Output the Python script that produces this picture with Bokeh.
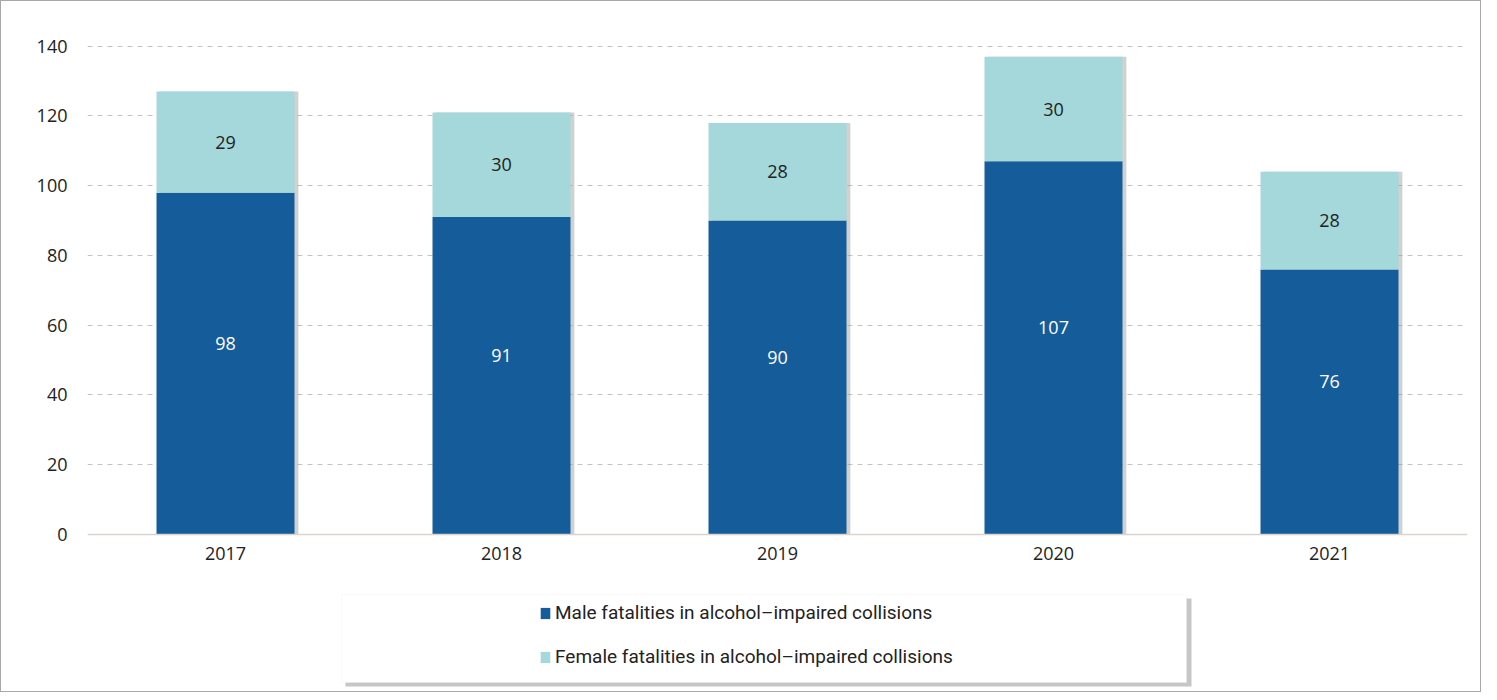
from bokeh.plotting import figure
from bokeh.models import ColumnDataSource, Legend, LegendItem, LabelSet, BoxAnnotation, FixedTicker, Range1d
from bokeh.transform import dodge
from bokeh.core.properties import value
from bokeh.embed import file_html
from bokeh.resources import INLINE

years = ["2017", "2018", "2019", "2020", "2021"]
male = [98, 91, 90, 107, 76]
female = [29, 30, 28, 30, 28]
y_ticks = [0, 20, 40, 60, 80, 100, 120, 140]
series_names = ["Male fatalities in alcohol\u2013impaired collisions",
                "Female fatalities in alcohol\u2013impaired collisions"]

MALE_C = "#155c9a"
FEMALE_C = "#a5d8da"
FONT = "Open Sans"

total = [m + f for m, f in zip(male, female)]
src = ColumnDataSource(dict(
    years=years, male=male, female=female, total=total,
    zero=[0] * len(years),
    male_mid=[m / 2 for m in male],
    female_mid=[m + f / 2 for m, f in zip(male, female)],
    male_txt=[str(v) for v in male],
    female_txt=[str(v) for v in female],
))

p = figure(x_range=years, y_range=Range1d(-45.6, 140.5), width=1481, height=692,
           output_backend="svg", toolbar_location=None,
           min_border_left=86, min_border_right=15, min_border_top=43, min_border_bottom=0)
p.outline_line_color = None
p.background_fill_color = "white"
p.border_fill_color = "white"
p.styles = {"border": "1px solid #a8a8a8"}

# legend box with drop shadow (screen units relative to frame bottom-left)
p.add_layout(BoxAnnotation(left=258, right=1104, top=95, bottom=7,
                           left_units="screen", right_units="screen",
                           top_units="screen", bottom_units="screen",
                           fill_color="#808080", fill_alpha=0.45, line_color=None,
                           level="underlay"))
p.add_layout(BoxAnnotation(left=254, right=1099, top=99, bottom=11,
                           left_units="screen", right_units="screen",
                           top_units="screen", bottom_units="screen",
                           fill_color="white", fill_alpha=1.0, line_color="#eeeeee",
                           level="underlay"))

# bar shadows
p.vbar(x=dodge("years", 0.014, range=p.x_range), top="total", bottom="zero", width=0.5,
       source=src, fill_color="#9a9a9a", fill_alpha=0.45, line_color=None)

r_m = p.vbar(x="years", top="male", bottom="zero", width=0.5, source=src,
             fill_color=MALE_C, line_color=None)
r_f = p.vbar(x="years", top="total", bottom="male", width=0.5, source=src,
             fill_color=FEMALE_C, line_color=None)

p.add_layout(LabelSet(x="years", y="male_mid", text="male_txt", source=src,
                      text_align="center", text_baseline="middle", y_offset=20,
                      text_color="white", text_font=value(FONT), text_font_size="18px"))
p.add_layout(LabelSet(x="years", y="female_mid", text="female_txt", source=src,
                      text_align="center", text_baseline="middle",
                      text_color="#222222", text_font=value(FONT), text_font_size="18px"))

# axes
p.yaxis.ticker = FixedTicker(ticks=y_ticks)
p.yaxis.axis_line_color = None
p.yaxis.major_tick_line_color = None
p.yaxis.minor_tick_line_color = None
p.yaxis.major_label_standoff = 14
p.yaxis.major_label_text_font = FONT
p.yaxis.major_label_text_font_size = "18px"
p.yaxis.major_label_text_color = "#222222"

p.xaxis.fixed_location = 0
p.xaxis.axis_line_color = "#dcd2ce"
p.xaxis.axis_line_width = 1.5
p.xaxis.major_tick_line_color = None
p.xaxis.major_label_standoff = 7
p.xaxis.major_label_text_font = FONT
p.xaxis.major_label_text_font_size = "18px"
p.xaxis.major_label_text_color = "#222222"

p.xgrid.grid_line_color = None
p.ygrid.ticker = FixedTicker(ticks=y_ticks[1:])
p.ygrid.grid_line_color = "#cdbfb9"
p.ygrid.grid_line_dash = "5 5"
p.ygrid.grid_line_width = 1.2

legend = Legend(items=[LegendItem(label=series_names[0], renderers=[r_m]),
                       LegendItem(label=series_names[1], renderers=[r_f])],
                location=(452, 25))
legend.label_text_font = "Roboto"
legend.label_text_font_size = "19px"
legend.label_text_color = "#222222"
legend.glyph_width = 12
legend.glyph_height = 14
legend.label_standoff = 4
legend.spacing = 21
legend.padding = 12
legend.border_line_color = None
legend.background_fill_alpha = 0.0
p.add_layout(legend, "center")

open("out.html", "w").write(file_html(p, INLINE))
